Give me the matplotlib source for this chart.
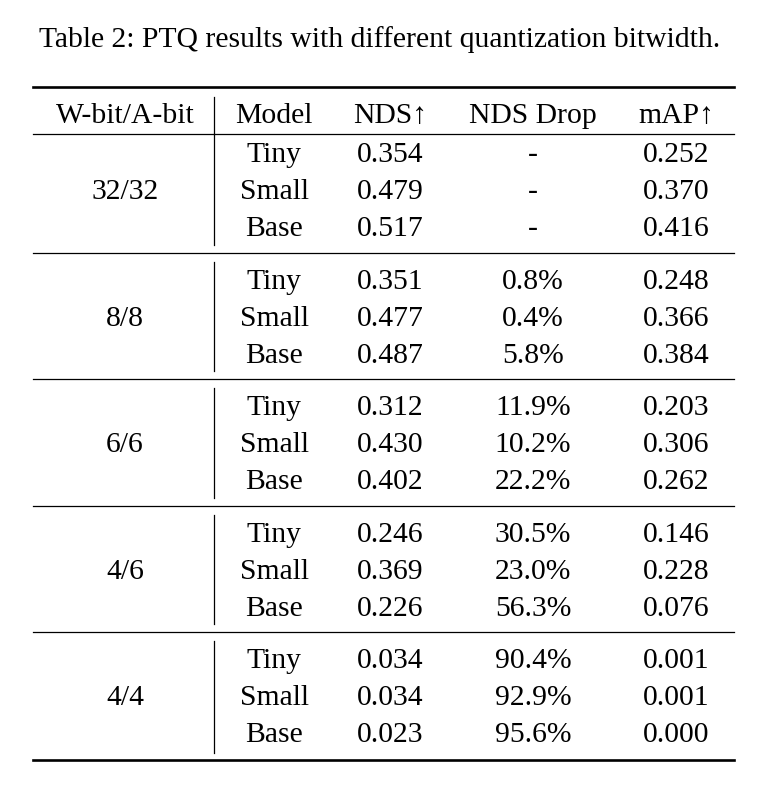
import matplotlib.pyplot as plt

plt.rcParams['font.family'] = ['Liberation Serif', 'DejaVu Serif']

title = "Table 2: PTQ results with different quantization bitwidth."
headers = ["W-bit/A-bit", "Model", "NDS\u2191", "NDS Drop", "mAP\u2191"]
bits = ["32/32", "8/8", "6/6", "4/6", "4/4"]
models = ["Tiny", "Small", "Base"]
nds = [[0.354, 0.479, 0.517],
       [0.351, 0.477, 0.487],
       [0.312, 0.430, 0.402],
       [0.246, 0.369, 0.226],
       [0.034, 0.034, 0.023]]
nds_drop = [["-", "-", "-"],
            ["0.8%", "0.4%", "5.8%"],
            ["11.9%", "10.2%", "22.2%"],
            ["30.5%", "23.0%", "56.3%"],
            ["90.4%", "92.9%", "95.6%"]]
mAP = [[0.252, 0.370, 0.416],
       [0.248, 0.366, 0.384],
       [0.203, 0.306, 0.262],
       [0.146, 0.228, 0.076],
       [0.001, 0.001, 0.000]]

W, H = 767, 792
fig = plt.figure(figsize=(W / 100, H / 100), dpi=100)
ax = fig.add_axes([0, 0, 1, 1])
ax.set_xlim(0, W)
ax.set_ylim(H, 0)
ax.axis("off")

fs = 21.3
col_x = [125, 274, 390, 533, 676]
x0, x1 = 33, 734
vx = 214
thin, thick = 0.9, 1.9

ax.text(380, 47, title, ha="center", va="baseline", fontsize=fs)

# rules
ax.plot([x0, x1], [87, 87], color="black", lw=thick)
ax.plot([x0, x1], [134, 134], color="black", lw=thin)
ax.plot([x0, x1], [760, 760], color="black", lw=thick)
ax.plot([vx, vx], [97, 134], color="black", lw=thin)

for j, h in enumerate(headers):
    ax.text(col_x[j], 123, h, ha="center", va="baseline", fontsize=fs)

seps = [253, 379.3, 505.6, 632]
row_h = 37
for g in range(len(bits)):
    if g == 0:
        top, first = 134, 162
    else:
        top, first = seps[g - 1] + 9, seps[g - 1] + 36
    bot = seps[g] - 8 if g < len(seps) else 753
    if g < len(seps):
        ax.plot([x0, x1], [seps[g], seps[g]], color="black", lw=thin)
    ax.plot([vx, vx], [top, bot], color="black", lw=thin)
    ax.text(col_x[0], first + row_h, bits[g], ha="center", va="baseline", fontsize=fs)
    for r in range(3):
        y = first + r * row_h
        ax.text(col_x[1], y, models[r], ha="center", va="baseline", fontsize=fs)
        ax.text(col_x[2], y, f"{nds[g][r]:.3f}", ha="center", va="baseline", fontsize=fs)
        ax.text(col_x[3], y, nds_drop[g][r], ha="center", va="baseline", fontsize=fs)
        ax.text(col_x[4], y, f"{mAP[g][r]:.3f}", ha="center", va="baseline", fontsize=fs)

fig.savefig("out.png", dpi=100)
